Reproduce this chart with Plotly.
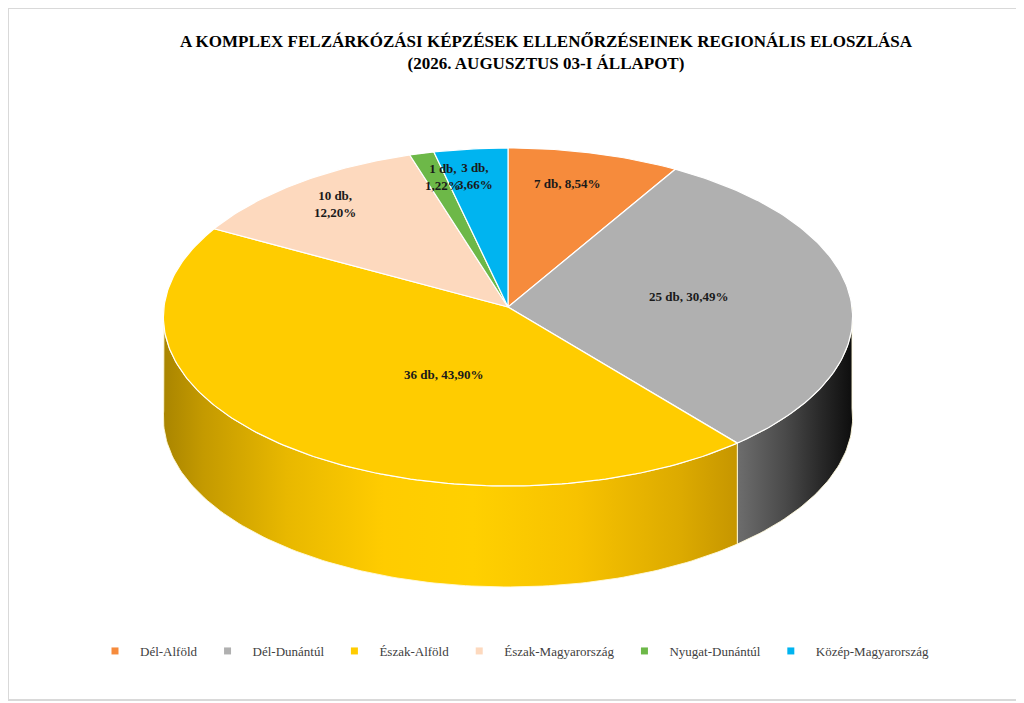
import numpy as np
import plotly.graph_objects as go

# data
regions = ["Dél-Alföld", "Dél-Dunántúl", "Észak-Alföld", "Észak-Magyarország",
           "Nyugat-Dunántúl", "Közép-Magyarország"]
counts = [7, 25, 36, 10, 1, 3]
pct_text = ["8,54%", "30,49%", "43,90%", "12,20%", "1,22%", "3,66%"]
title_lines = ["A KOMPLEX FELZÁRKÓZÁSI KÉPZÉSEK ELLENŐRZÉSEINEK REGIONÁLIS ELOSZLÁSA",
               "(2026. AUGUSZTUS 03-I ÁLLAPOT)"]

# style
COLORS = {
    "Dél-Alföld": "#F68B3C",
    "Dél-Dunántúl": "#B0B0B0",
    "Észak-Alföld": "#FFCC00",
    "Észak-Magyarország": "#FDD9BE",
    "Nyugat-Dunántúl": "#6DB848",
    "Közép-Magyarország": "#00B4F0",
}
SIDE_SHADES = {
    "Dél-Dunántúl": [[0, "#8c8c8c"], [0.8, "#7a7a7a"], [0.83, "#6e6e6e"],
                     [0.9, "#4a4a4a"], [0.95, "#2a2a2a"], [1, "#0c0c0c"]],
    "Észak-Alföld": [[0, "#a88400"], [0.06, "#c49a00"], [0.18, "#e8b800"],
                     [0.32, "#ffcc00"], [0.45, "#ffd000"], [0.6, "#f7c200"],
                     [0.75, "#dcaa00"], [0.83, "#c69600"], [1, "#806000"]],
}
# label placement: radius fraction and position along the slice (0.5 = middle)
LABEL_R = [0.79, 0.53, 0.43, 0.82, 0.83, 0.82]
LABEL_AT = [0.43, 0.48, 0.41, 0.5, 0.84, 0.47]
LABEL_BREAK = [False, False, False, True, True, True]

W, H = 1024, 703
OFF = 8                # page body margin, axes shifted so data units = screen px
CX, CY = 508, 307      # pie centre on screen
R, B = 344, 168.4      # horizontal radius, vertical half-axis
P = 0.059              # perspective strength
D = 101                # thickness


def project(u, w):
    s = 1.0 / (1.0 - P * w)
    return CX + R * u * s, CY + B * w * s


def arc(a, b, drop=0.0):
    t = np.radians(np.linspace(a, b, max(int(abs(b - a)), 2) + 1))
    x, y = project(np.sin(t), -np.cos(t))
    return list(x), list(y + drop)


total = sum(counts)
bounds = np.concatenate([[0], np.cumsum(counts)]) / total * 360

fig = go.Figure()

# sides (front half only)
for i, name in enumerate(regions):
    a, b = max(bounds[i], 90), min(bounds[i + 1], 270)
    if a >= b:
        continue
    xt, yt = arc(a, b)
    xb, yb = arc(b, a, D)
    shade = SIDE_SHADES.get(name)
    fig.add_trace(go.Scatter(
        x=xt + xb + [xt[0]], y=yt + yb + [yt[0]],
        mode="lines", fill="toself",
        fillcolor=COLORS[name],
        fillgradient=dict(type="horizontal", colorscale=shade,
                          start=CX - R - 2, stop=CX + R + 2) if shade else None,
        line=dict(color="rgba(255,250,220,0.9)", width=1),
        hoverinfo="skip", showlegend=False,
    ))

# top faces
for i, name in enumerate(regions):
    xa, ya = arc(bounds[i], bounds[i + 1])
    fig.add_trace(go.Scatter(
        x=[CX] + xa + [CX], y=[CY] + ya + [CY],
        mode="lines", fill="toself", fillcolor=COLORS[name],
        line=dict(color="white", width=1.2),
        hoverinfo="skip", showlegend=False,
    ))

# labels
for i, name in enumerate(regions):
    ang = np.radians(bounds[i] + LABEL_AT[i] * (bounds[i + 1] - bounds[i]))
    f = LABEL_R[i]
    lx, ly = project(f * np.sin(ang), -f * np.cos(ang))
    sep = ",<br>" if LABEL_BREAK[i] else ", "
    fig.add_annotation(
        x=lx, y=ly, text=f"{counts[i]} db{sep}{pct_text[i]}",
        showarrow=False, align="center",
        font=dict(family="Liberation Serif", size=13, color="#1a1a1a", weight="bold"),
    )

# legend entries
for name in regions:
    fig.add_trace(go.Scatter(
        x=[None], y=[None], mode="markers", name=name,
        marker=dict(symbol="square", size=7, color=COLORS[name]),
    ))

fig.update_layout(
    width=W, height=H,
    margin=dict(l=0, r=0, t=0, b=0),
    paper_bgcolor="white", plot_bgcolor="white",
    title=dict(
        text="<br>".join(title_lines),
        x=(546 - OFF) / W, xanchor="center", y=1 - (47 - OFF) / H, yanchor="middle",
        font=dict(family="Liberation Serif", size=17, color="black", weight="bold"),
    ),
    xaxis=dict(range=[OFF, W + OFF], visible=False, fixedrange=True),
    yaxis=dict(range=[H + OFF, OFF], visible=False, fixedrange=True),
    legend=dict(
        orientation="h", x=(512 - OFF) / W, xanchor="center",
        y=1 - (651 - OFF) / H, yanchor="middle",
        font=dict(family="Liberation Serif", size=13, color="#404040"),
        itemwidth=40,
    ),
    shapes=[dict(type="rect", xref="paper", yref="paper",
                 x0=0, y0=1 - (700 - OFF) / H, x1=(1021 - OFF) / W, y1=1,
                 line=dict(color="#D9D9D9", width=2))],
)

fig.write_html("out.html")
